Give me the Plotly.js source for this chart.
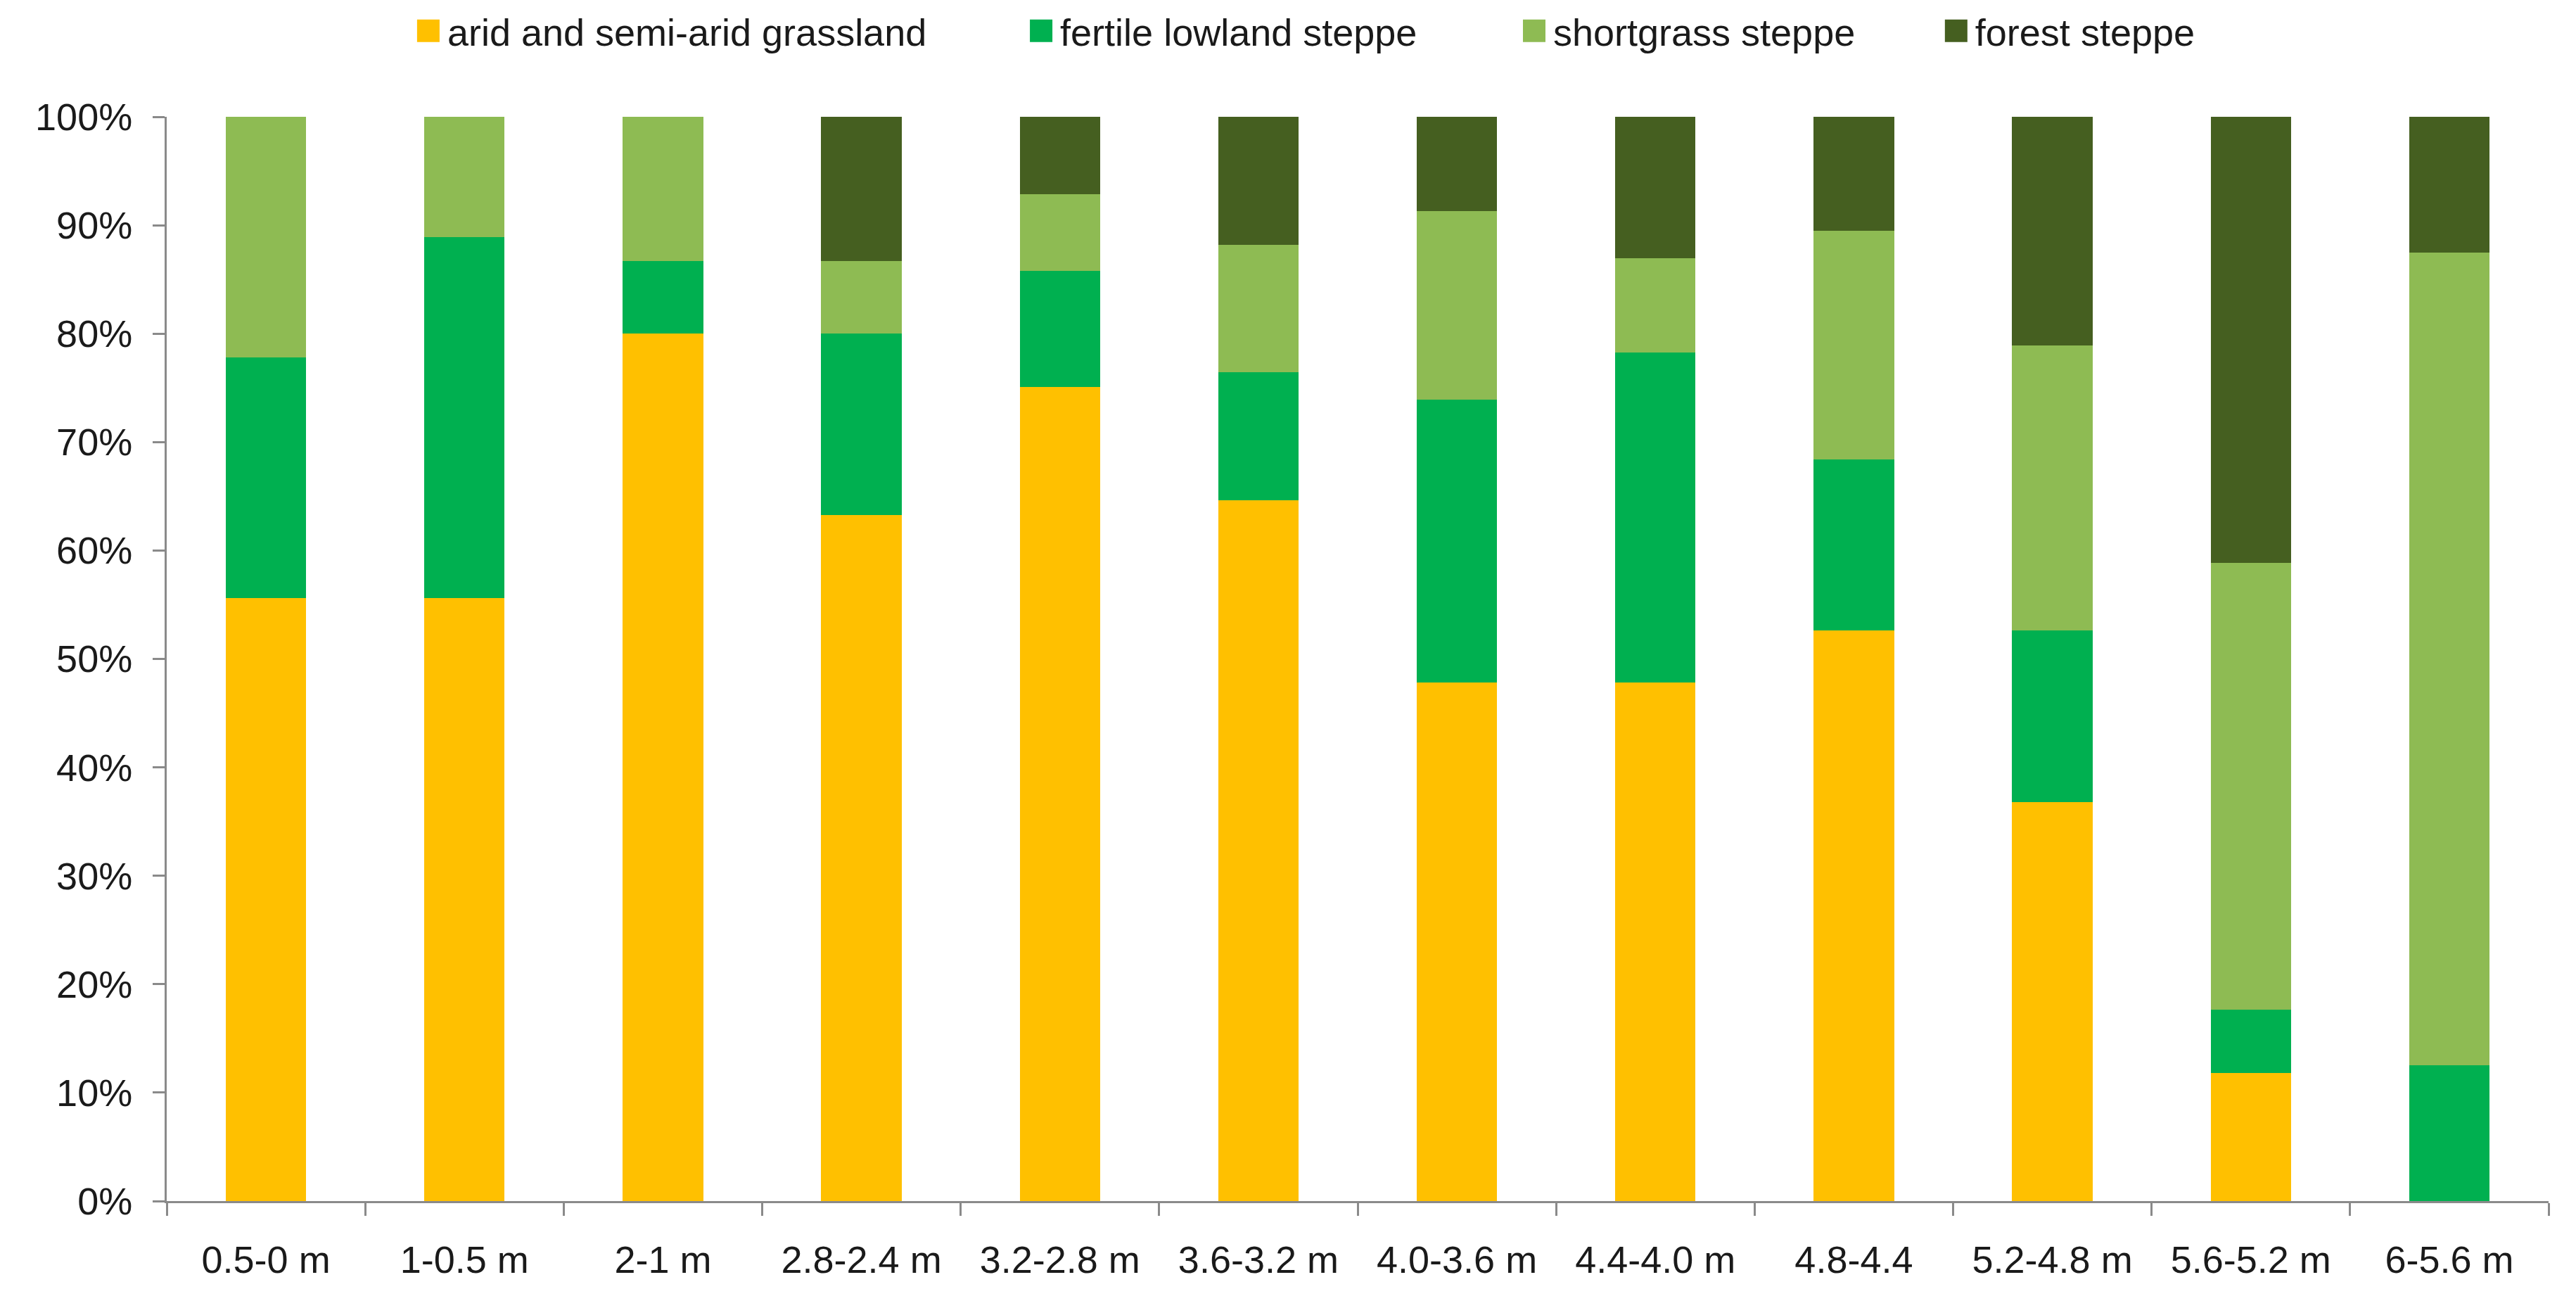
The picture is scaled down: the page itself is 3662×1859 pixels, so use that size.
<!DOCTYPE html>
<html>
<head>
<meta charset="utf-8">
<script src="https://cdn.plot.ly/plotly-3.0.1.min.js"></script>
<style>html,body{margin:0;padding:0;background:#fff;}#chart{width:3662px;height:1859px;}</style>
</head>
<body>
<div id="chart"></div>
<script>
const categories = ["0.5-0 m", "1-0.5 m", "2-1 m", "2.8-2.4 m", "3.2-2.8 m", "3.6-3.2 m", "4.0-3.6 m", "4.4-4.0 m", "4.8-4.4", "5.2-4.8 m", "5.6-5.2 m", "6-5.6 m"];
const seriesNames = ["arid and semi-arid grassland", "fertile lowland steppe", "shortgrass steppe", "forest steppe"];
const arid      = [55.6, 55.6, 80.0, 63.3, 75.0, 64.7, 47.8, 47.8, 52.6, 36.8, 11.8, 0];
const fertile   = [22.2, 33.3, 6.7, 16.7, 10.7, 11.8, 26.1, 30.4, 15.8, 15.8, 5.9, 12.5];
const shortgrass= [22.2, 11.1, 13.3, 6.7, 7.1, 11.8, 17.4, 8.7, 21.1, 26.3, 41.2, 75.0];
const forest    = [0, 0, 0, 13.3, 7.1, 11.8, 8.7, 13.0, 10.5, 21.1, 41.2, 12.5];
const colors = ["#FFC000", "#00B050", "#8EBB53", "#455F20"];

const values = [arid, fertile, shortgrass, forest];
const FONT = "Liberation Sans, Arial, sans-serif";
const legendIds = ["legend", "legend2", "legend3", "legend4"];
const legendX = [0.1589, 0.3968, 0.5882, 0.7520];

const traces = values.map((v, i) => ({
  type: "bar",
  x: categories,
  y: v,
  name: seriesNames[i],
  legend: legendIds[i],
  marker: {color: colors[i], line: {width: 0}},
  hoverinfo: "x+y+name"
}));

const axisColor = "#8A8A8A";
const layout = {
  width: 3662,
  height: 1859,
  paper_bgcolor: "#ffffff",
  plot_bgcolor: "#ffffff",
  barmode: "stack",
  barnorm: "percent",
  bargap: 0.595,
  margin: {l: 237, r: 39, t: 166, b: 152},
  font: {family: FONT, size: 54, color: "#1a1a1a"},
  showlegend: true,
  xaxis: {
    type: "category",
    showline: true, linecolor: axisColor, linewidth: 3,
    ticks: "outside", tickson: "boundaries", ticklen: 18, tickwidth: 3, tickcolor: axisColor,
    showgrid: false, zeroline: false,
    tickfont: {family: FONT, size: 54, color: "#1a1a1a"},
    ticklabelstandoff: 34
  },
  yaxis: {
    range: [0, 100],
    dtick: 10, tick0: 0,
    ticksuffix: "%",
    showline: true, linecolor: axisColor, linewidth: 3,
    ticks: "outside", ticklen: 17, tickwidth: 3, tickcolor: axisColor,
    showgrid: false, zeroline: false,
    tickfont: {family: FONT, size: 54, color: "#1a1a1a"},
    ticklabelstandoff: 18
  }
};
legendIds.forEach((id, i) => {
  layout[id] = {
    orientation: "h",
    xref: "container", yref: "container",
    x: legendX[i], xanchor: "left",
    y: 0.9763, yanchor: "middle",
    font: {family: FONT, size: 54, color: "#1a1a1a"},
    bgcolor: "rgba(0,0,0,0)",
    itemwidth: 44
  };
});

Plotly.newPlot("chart", traces, layout, {displayModeBar: false, staticPlot: true}).then(gd => {
  gd.querySelectorAll("g.legendpoints path").forEach(p => {
    const d = p.getAttribute("d") || "";
    if (d.replace(/\s/g, "") === "M6,6H-6V-6H6Z") p.setAttribute("d", "M16,16H-16V-16H16Z");
  });
});
</script>
</body>
</html>
